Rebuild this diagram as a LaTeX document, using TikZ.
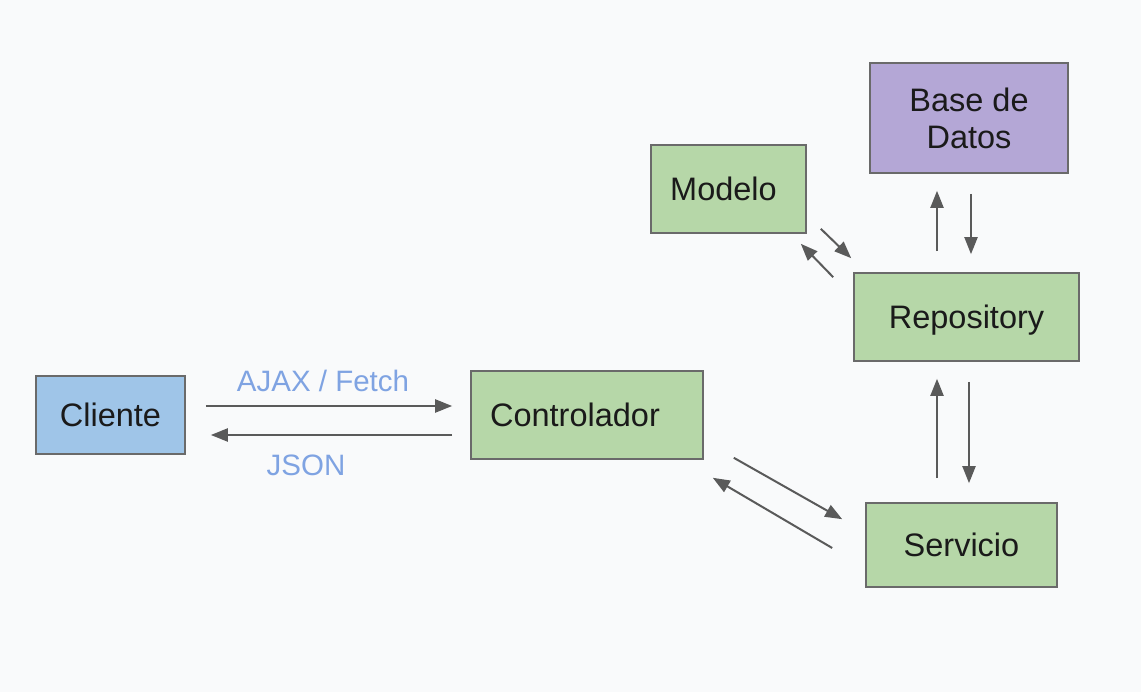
\documentclass[tikz,border=0pt]{standalone}
\usepackage{fontspec}
\setmainfont{Liberation Sans}
\usetikzlibrary{arrows.meta}
\definecolor{bg}{HTML}{F9FAFB}
\definecolor{bluebox}{HTML}{9FC5E8}
\definecolor{greenbox}{HTML}{B6D7A8}
\definecolor{purplebox}{HTML}{B4A7D6}
\definecolor{edge}{HTML}{6A6A6A}
\definecolor{arrowgray}{HTML}{5A5A5A}
\definecolor{labelblue}{HTML}{7FA3E2}
\definecolor{txt}{HTML}{1A1A1A}
\tikzset{
  box/.style={draw=edge, line width=1.6pt, inner sep=0pt, align=center,
    text=txt, font=\fontsize{32.5}{37}\selectfont},
  arr/.style={draw=arrowgray, line width=2pt,
    -{Triangle[length=17pt,width=13pt]}},
  lbl/.style={text=labelblue, font=\fontsize{29.5}{33}\selectfont, inner sep=0pt}
}
\begin{document}
\begin{tikzpicture}[x=1pt,y=-1pt]
\fill[bg] (0,0) rectangle (1141,692);
\useasboundingbox (0,0) rectangle (1141,692);

\node[box, fill=bluebox, minimum width=149pt, minimum height=78pt] (cli) at (110.5,415) {Cliente};
\node[box, fill=greenbox, minimum width=232pt, minimum height=88pt, text width=232pt] (ctl) at (587,415) {\hspace*{-24pt}Controlador};
\node[box, fill=greenbox, minimum width=155pt, minimum height=88pt, text width=155pt] (mod) at (728.5,189) {\hspace*{-10pt}Modelo};
\node[box, fill=purplebox, minimum width=198pt, minimum height=110pt] (db) at (969,118) {Base de\\Datos};
\node[box, fill=greenbox, minimum width=225pt, minimum height=88pt, text depth=0pt] (rep) at (966.5,317) {Repository};
\node[box, fill=greenbox, minimum width=191pt, minimum height=84pt] (srv) at (961.5,545) {Servicio};

\node[lbl] (ajax) at (323,381) {AJAX / Fetch};
\node[lbl] (json) at (306,465) {JSON};

% Cliente <-> Controlador
\draw[arr] ([xshift=20pt,yshift=9pt]cli.east) -- ([xshift=-18pt,yshift=9pt]ctl.west);
\draw[arr] ([xshift=-18pt,yshift=-20pt]ctl.west) -- ([xshift=25pt,yshift=-20pt]cli.east);

% Controlador <-> Servicio
\draw[arr] ([xshift=30pt,yshift=2pt]ctl.south east) -- ([xshift=-23pt,yshift=-17pt]srv.north west);
\draw[arr] ([xshift=-33pt,yshift=-3pt]srv.west) -- ([xshift=9pt,yshift=-18pt]ctl.south east);

% Servicio <-> Repository
\draw[arr] ([xshift=-24.5pt,yshift=24pt]srv.north) -- ([xshift=-29.5pt,yshift=-17pt]rep.south);
\draw[arr] ([xshift=2.5pt,yshift=-20pt]rep.south) -- ([xshift=7.5pt,yshift=19pt]srv.north);

% Repository <-> Base de Datos
\draw[arr] ([xshift=-29.5pt,yshift=21pt]rep.north) -- ([xshift=-32pt,yshift=-17pt]db.south);
\draw[arr] ([xshift=2pt,yshift=-20pt]db.south) -- ([xshift=4.5pt,yshift=18pt]rep.north);

% Modelo <-> Repository
\draw[arr] ([xshift=14pt,yshift=5pt]mod.south east) -- ([xshift=-2pt,yshift=14pt]rep.north west);
\draw[arr] ([xshift=-20pt,yshift=-5pt]rep.north west) -- ([xshift=-6pt,yshift=-10pt]mod.south east);
\end{tikzpicture}
\end{document}
